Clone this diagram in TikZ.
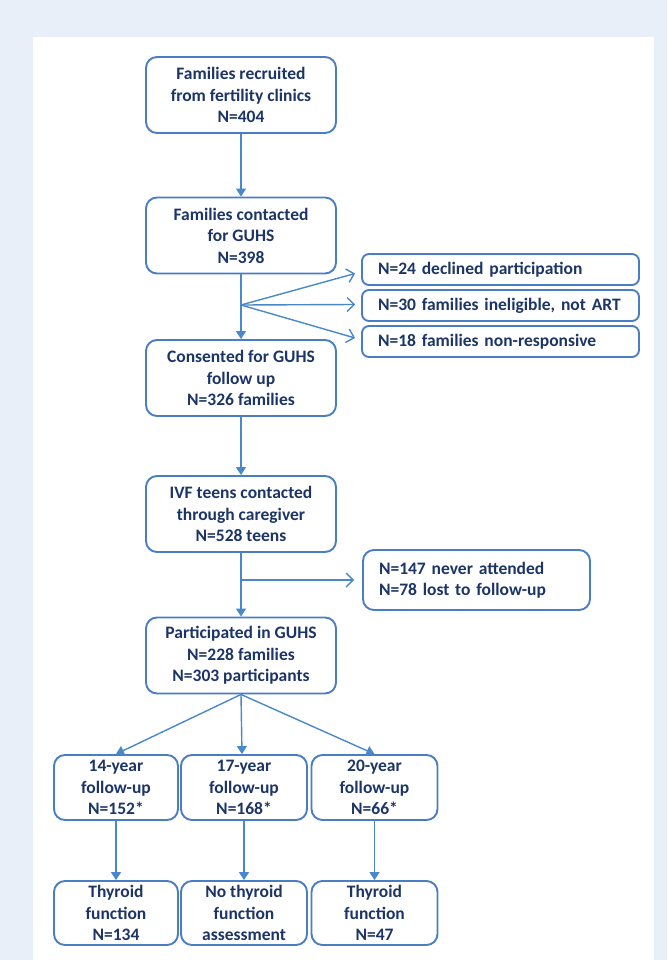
\documentclass[tikz,border=0pt]{standalone}
\usepackage{fontspec}
\setmainfont{Carlito}
\usetikzlibrary{arrows.meta}
\definecolor{bgblue}{HTML}{E8EFF8}
\definecolor{boxblue}{HTML}{4A7EC4}
\definecolor{arrowblue}{HTML}{4A88CC}
\definecolor{navy}{HTML}{1C3566}
\begin{document}
\begin{tikzpicture}[x=1pt,y=-1pt,
  box/.style={draw=boxblue, line width=1.9pt, rounded corners=11pt, fill=white, text=navy,
    font=\bfseries\fontsize{17.5}{21.5}\selectfont, inner sep=0pt},
  mainbox/.style={box, align=center, minimum width=190pt, minimum height=76pt},
  exclbox/.style={box, align=left, text width=245pt, inner xsep=16pt, minimum height=31pt, rounded corners=7pt},
  smallbox/.style={box, align=center, minimum width=126pt, minimum height=65pt},
  arr/.style={draw=arrowblue, line width=1.4pt, -{Triangle[length=8pt,width=10pt]}},
  oarr/.style={draw=arrowblue, line width=1.4pt, -{Straight Barb[length=7pt,width=14pt]}},
  ln/.style={draw=arrowblue, line width=1.4pt}
]
\useasboundingbox (0,0) rectangle (667,960);
\fill[bgblue] (0,0) rectangle (667,960);
\fill[white] (33,37) rectangle (654,960);

\node[mainbox] (b1) at (241,95) {Families recruited\\from fertility clinics\\N=404};
\node[mainbox] (b2) at (241,235.5) {Families contacted\\for GUHS\\N=398};
\node[mainbox] (b3) at (241,378) {Consented for GUHS\\follow up\\N=326 families};
\node[mainbox] (b4) at (241,514) {IVF teens contacted\\through caregiver\\N=528 teens};
\node[mainbox] (b5) at (241,655.5) {Participated in GUHS\\N=228 families\\N=303 participants};

\node[exclbox] (e1) at (500.5,269.5) {N=24 declined participation};
\node[exclbox] (e2) at (500.5,305.5) {N=30 families ineligible, not ART};
\node[exclbox] (e3) at (500.5,341.5) {N=18 families non-responsive};
\node[box, align=left, text width=195pt, inner xsep=16pt, minimum height=60pt] (e4) at (476.5,580) {N=147 never attended\\N=78 lost to follow-up};

\node[smallbox, minimum width=124pt] (f1) at (116,787.5) {14-year\\follow-up\\N=152*};
\node[smallbox] (f2) at (244,787.5) {17-year\\follow-up\\N=168*};
\node[smallbox] (f3) at (374.5,787.5) {20-year\\follow-up\\N=66*};

\node[smallbox, minimum width=124pt, minimum height=64pt] (g1) at (116,913) {Thyroid\\function\\N=134};
\node[smallbox, minimum height=64pt] (g2) at (244,913) {No thyroid\\function\\assessment};
\node[smallbox, minimum height=64pt] (g3) at (374.5,913) {Thyroid\\function\\N=47};

\coordinate (j1) at (241,305);
\coordinate (j2) at (241,580);

\draw[arr] (b1.south) -- (b2.north);
\draw[arr] (b2.south) -- (b3.north);
\draw[oarr] (j1) -- ([xshift=-6pt,yshift=-4pt]e1.west);
\draw[oarr] (j1) -- ([xshift=-6pt,yshift=1pt]e2.west);
\draw[oarr] (j1) -- ([xshift=-6pt,yshift=3.5pt]e3.west);
\draw[arr] (b3.south) -- (b4.north);
\draw[arr] (b4.south) -- (b5.north);
\draw[oarr] (j2) -- ([xshift=-8pt]e4.west);
\draw[arr] (b5.south) -- (f1.north);
\draw[arr] (b5.south) -- ([xshift=-2pt]f2.north);
\draw[arr] (b5.south) -- (f3.north);
\draw[arr] (f1.south) -- (g1.north);
\draw[arr] (f2.south) -- (g2.north);
\draw[arr] (f3.south) -- (g3.north);
\end{tikzpicture}
\end{document}
